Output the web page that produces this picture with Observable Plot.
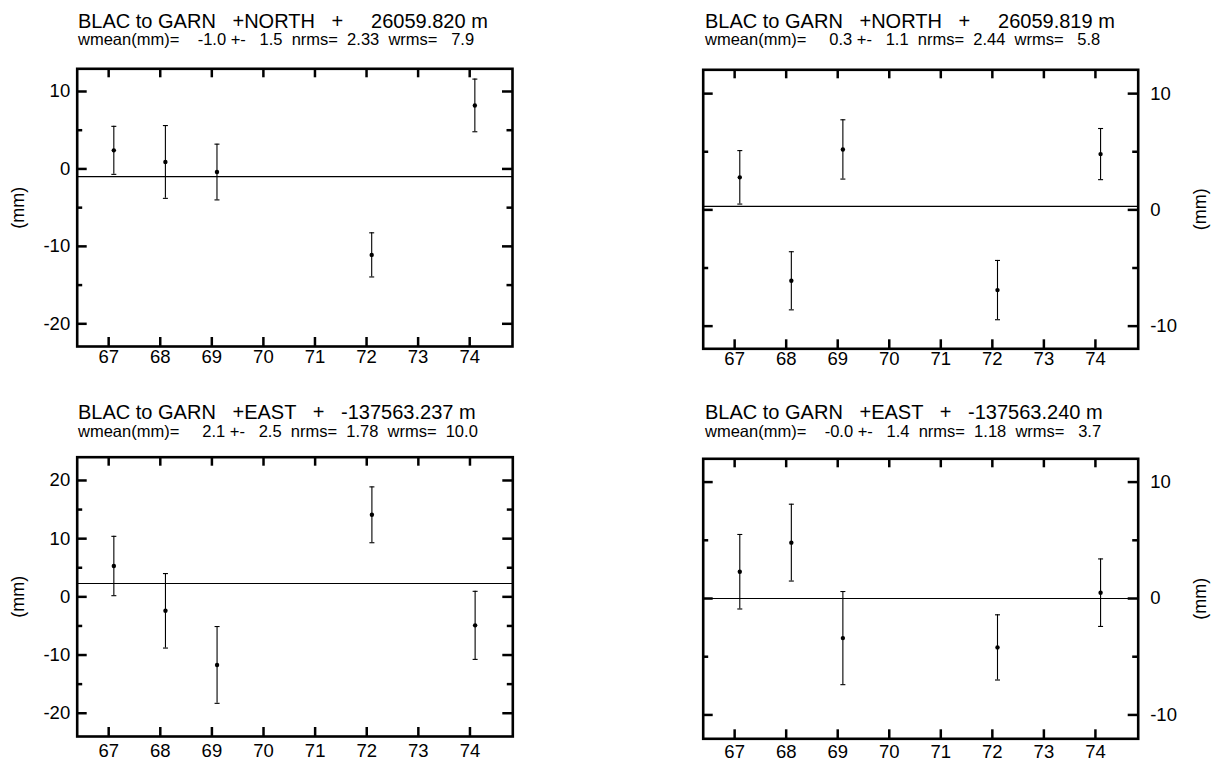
<!DOCTYPE html>
<html>
<head>
<meta charset="utf-8">
<script src="https://cdn.jsdelivr.net/npm/d3@7"></script>
<script src="https://cdn.jsdelivr.net/npm/@observablehq/plot@0.6"></script>
<style>
  html, body { margin: 0; padding: 0; background: #fff; }
  #page { position: relative; width: 1217px; height: 766px; overflow: hidden; background: #fff;
          font-family: "Liberation Sans", Arial, Helvetica, sans-serif; color: #000; }
  .panel { position: absolute; }
  .title { position: absolute; white-space: pre; font-size: 20px; line-height: 20px; }
  .sub { position: absolute; white-space: pre; font-size: 16.5px; line-height: 16.5px; }
</style>
</head>
<body>
<div id="page"></div>
<script>
// ---------- data ----------
const years = [67.1, 68.1, 69.1, 72.1, 74.1];

const titles = [
  "BLAC to GARN   +NORTH   +     26059.820 m",
  "BLAC to GARN   +NORTH   +     26059.819 m",
  "BLAC to GARN   +EAST   +   -137563.237 m",
  "BLAC to GARN   +EAST   +   -137563.240 m"
];
const subtitles = [
  "wmean(mm)=    -1.0 +-   1.5  nrms=  2.33  wrms=   7.9",
  "wmean(mm)=     0.3 +-   1.1  nrms=  2.44  wrms=   5.8",
  "wmean(mm)=     2.1 +-   2.5  nrms=  1.78  wrms=  10.0",
  "wmean(mm)=    -0.0 +-   1.4  nrms=  1.18  wrms=   3.7"
];

const values1 = [2.4, 0.9, -0.4, -11.1, 8.2];
const errors1 = [3.1, 4.7, 3.6, 2.85, 3.4];
const values2 = [2.8, -6.1, 5.2, -6.9, 4.8];
const errors2 = [2.3, 2.5, 2.55, 2.55, 2.2];
const values3 = [5.3, -2.4, -11.7, 14.1, -4.9];
const errors3 = [5.1, 6.4, 6.6, 4.8, 5.85];
const values4 = [2.3, 4.8, -3.4, -4.2, 0.5];
const errors4 = [3.2, 3.3, 4.0, 2.8, 2.9];

const means = [-1.0, 0.3, 2.3, 0.0];

const xTicks = [67, 68, 69, 70, 71, 72, 73, 74];
const yMajor1 = [10, 0, -10, -20];
const yMinor1 = [5, -5, -15];
const yMajor2 = [10, 0, -10];
const yMinor2 = [5, -5];
const yMajor3 = [20, 10, 0, -10, -20];
const yMinor3 = [15, 5, -5, -15];
const yMajor4 = [10, 0, -10];
const yMinor4 = [5, -5];

const xDomain = [66.39, 74.83];
const yDomains = [[-22.93, 12.93], [-11.95, 12.05], [-24, 24], [-12.05, 12.0]];

// ---------- layout ----------
const panels = [
  {vals: values1, errs: errors1, major: yMajor1, minor: yMinor1, side: "left",
   left: 0, top: 50, width: 608, height: 330, mL: 76.7, mR: 96, mT: 18.3, mB: 34,
   tx: 78, ty: 11, sy: 31, xpad: 3},
  {vals: values2, errs: errors2, major: yMajor2, minor: yMinor2, side: "right",
   left: 608, top: 50, width: 609, height: 330, mL: 94.7, mR: 79.3, mT: 19.3, mB: 31.7,
   tx: 705, ty: 11, sy: 31, xpad: 3},
  {vals: values3, errs: errors3, major: yMajor3, minor: yMinor3, side: "left",
   left: 0, top: 440, width: 608, height: 326, mL: 76.7, mR: 95.7, mT: 16.7, mB: 30,
   tx: 78, ty: 402, sy: 423, xpad: 7},
  {vals: values4, errs: errors4, major: yMajor4, minor: yMinor4, side: "right",
   left: 608, top: 440, width: 609, height: 326, mL: 94.7, mR: 79.3, mT: 18.3, mB: 27.7,
   tx: 705, ty: 402, sy: 423, xpad: 6}
];

const capSymbol = {
  draw(context, size) {
    const r = Math.sqrt(size / Math.PI);
    context.moveTo(-r, 0);
    context.lineTo(r, 0);
  }
};

const page = document.getElementById("page");

panels.forEach((p, i) => {
  const data = years.map((x, k) => ({x, y: p.vals[k], e: p.errs[k]}));
  const fw = p.width - p.mL - p.mR;
  const fh = p.height - p.mT - p.mB;
  const majLen = 10, minLen = 5.5, xLen = 9;
  const isLeft = p.side === "left";

  const chart = Plot.plot({
    width: p.width,
    height: p.height,
    marginLeft: p.mL,
    marginRight: p.mR,
    marginTop: p.mT,
    marginBottom: p.mB,
    x: {domain: xDomain},
    y: {domain: yDomains[i]},
    style: {fontFamily: "'Liberation Sans', Arial, Helvetica, sans-serif", color: "#000", background: "transparent", overflow: "visible"},
    marks: [
      // mean line
      Plot.ruleY([means[i]], {stroke: "#000", strokeWidth: 1.1}),
      // error bars
      Plot.ruleX(data, {x: "x", y1: d => d.y - d.e, y2: d => d.y + d.e, stroke: "#000", strokeWidth: 1.1}),
      Plot.dot(data, {x: "x", y: d => d.y + d.e, symbol: capSymbol, r: 2.5, stroke: "#000", strokeWidth: 1.1}),
      Plot.dot(data, {x: "x", y: d => d.y - d.e, symbol: capSymbol, r: 2.5, stroke: "#000", strokeWidth: 1.1}),
      Plot.dot(data, {x: "x", y: "y", r: 2.2, fill: "#000", stroke: null}),
      // inward ticks, x (bottom & top)
      Plot.tickX(xTicks, {x: d => d, insetTop: fh - xLen, stroke: "#000", strokeWidth: 2.5}),
      Plot.tickX(xTicks, {x: d => d, insetBottom: fh - xLen, stroke: "#000", strokeWidth: 2.5}),
      // inward ticks, y (left & right), major and minor
      Plot.tickY(p.major, {y: d => d, insetRight: fw - majLen, stroke: "#000", strokeWidth: 2.5}),
      Plot.tickY(p.major, {y: d => d, insetLeft: fw - majLen, stroke: "#000", strokeWidth: 2.5}),
      Plot.tickY(p.minor, {y: d => d, insetRight: fw - minLen, stroke: "#000", strokeWidth: 2.5}),
      Plot.tickY(p.minor, {y: d => d, insetLeft: fw - minLen, stroke: "#000", strokeWidth: 2.5}),
      // frame
      Plot.frame({stroke: "#000", strokeWidth: 2.6}),
      // tick labels
      Plot.axisX({ticks: xTicks, tickSize: 0, tickPadding: p.xpad, fontSize: 18.5, tickFormat: d => String(d), label: null}),
      Plot.axisY({ticks: p.major, anchor: p.side, tickSize: 0, tickPadding: isLeft ? 7 : 12, fontSize: 18.5, tickFormat: d => String(d), label: null}),
      // axis title
      Plot.text(["(mm)"], {
        frameAnchor: p.side, dx: isLeft ? -59 : 62, rotate: -90,
        text: d => d, fontSize: 18, textAnchor: "middle", lineAnchor: "middle"
      })
    ]
  });
  const wrap = document.createElement("div");
  wrap.className = "panel";
  wrap.style.left = p.left + "px";
  wrap.style.top = p.top + "px";
  wrap.appendChild(chart);
  page.appendChild(wrap);

  const t = document.createElement("div");
  t.className = "title";
  t.style.left = p.tx + "px";
  t.style.top = p.ty + "px";
  t.textContent = titles[i];
  page.appendChild(t);

  const s = document.createElement("div");
  s.className = "sub";
  s.style.left = p.tx + "px";
  s.style.top = p.sy + "px";
  s.textContent = subtitles[i];
  page.appendChild(s);
});
</script>
</body>
</html>
